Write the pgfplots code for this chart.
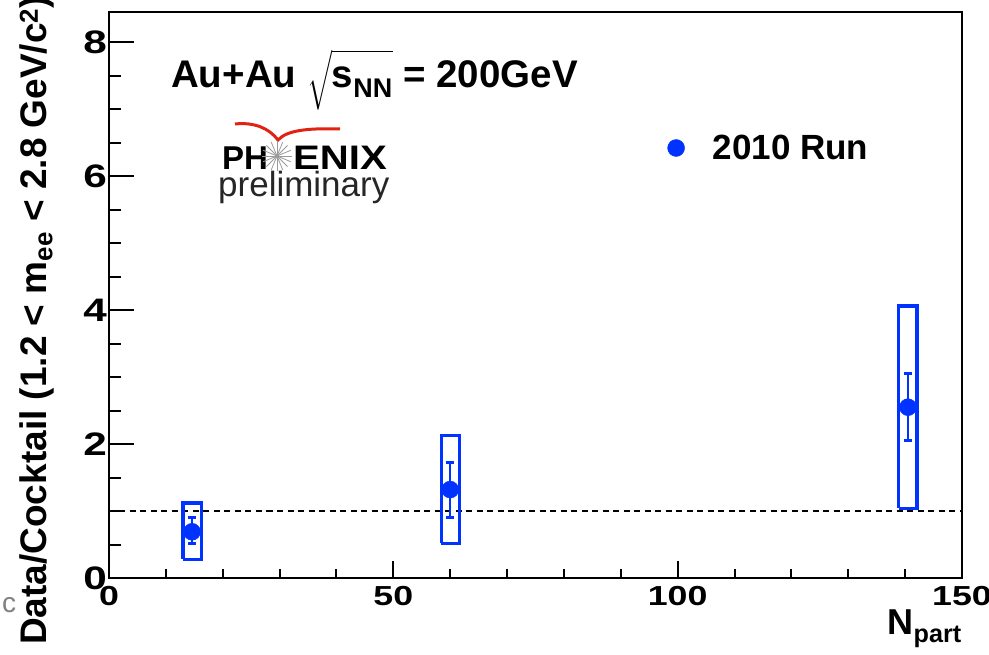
\documentclass[border=0pt]{standalone}
\usepackage{fontspec}
\setmainfont{Liberation Sans}
\usepackage{amsmath}
\usepackage{graphicx}
\usepackage{pgfplots}
\pgfplotsset{compat=1.18}

\definecolor{rootblue}{RGB}{0,51,255}
\definecolor{phxred}{RGB}{225,35,20}

\begin{document}
\begin{tikzpicture}
\useasboundingbox (-109pt,-76pt) rectangle (880pt,578pt);
\begin{axis}[
    scale only axis,
    width=853pt, height=566pt,
    xmin=0, xmax=150,
    ymin=0, ymax=8.45,
    xtick={0,50,100,150},
    minor xtick={10,20,30,40,60,70,80,90,110,120,130,140},
    ytick={0,2,4,6,8},
    minor ytick={0.5,1,1.5,2.5,3,3.5,4.5,5,5.5,6.5,7,7.5},
    tick align=inside,
    tick pos=left,
    axis line style={line width=2.5pt},
    xtick style={line width=2pt, black, /pgfplots/major tick length=17pt, /pgfplots/minor tick length=9pt},
    ytick style={line width=2pt, black, /pgfplots/major tick length=25pt, /pgfplots/minor tick length=12pt},
    /pgf/number format/assume math mode=true,
    xticklabel={\scalebox{1.3}[1]{\pgfmathprintnumber{\tick}}},
    yticklabel={\scalebox{1.3}[1]{\pgfmathprintnumber{\tick}}},
    xticklabel style={font=\bfseries\fontsize{27.5}{28}\selectfont, inner sep=0pt, yshift=-8pt},
    yticklabel style={font=\bfseries\fontsize{32.5}{33}\selectfont, inner sep=0pt, xshift=-2pt},
    legend style={draw=none, fill=none, at={(axis cs:98.2,6.42)}, anchor=west,
        font=\bfseries\fontsize{35}{40}\selectfont, inner sep=0pt},
    legend cell align=left,
]
% reference line at ratio 1
\addplot[black, line width=2pt, dash pattern=on 6pt off 4.5pt, forget plot]
    coordinates {(0,1) (150,1)};

% systematic boxes
\addplot[rootblue, line width=3.2pt, line join=miter, forget plot]
    coordinates {(13.0,0.28) (16.2,0.28) (16.2,1.12) (13.0,1.12) (13.0,0.28)};
\addplot[rootblue, line width=3.2pt, line join=miter, forget plot]
    coordinates {(58.4,0.52) (61.6,0.52) (61.6,2.13) (58.4,2.13) (58.4,0.52)};
\addplot[rootblue, line width=3.2pt, line join=miter, forget plot]
    coordinates {(138.9,1.04) (142.1,1.04) (142.1,4.06) (138.9,4.06) (138.9,1.04)};

% data with statistical errors
\addplot[rootblue, only marks, mark=*, mark size=8.5pt,
    error bars/.cd, y dir=both, y explicit,
    error bar style={line width=2pt, rootblue},
    error mark options={rootblue, rotate=90, mark size=4pt, line width=3pt}]
    coordinates {
    (14.6,0.69) += (0,0.22) -= (0,0.18)
    (60.0,1.32) += (0,0.41) -= (0,0.41)
    (140.5,2.55) += (0,0.51) -= (0,0.49)
};
\addlegendentry{\hspace*{26pt}2010 Run}
\end{axis}

% labels
\node[rotate=90, anchor=base west, inner sep=0pt, font=\bfseries\fontsize{37}{40}\selectfont]
    at (-62pt,-67pt) {Data/Cocktail (1.2 < m$_{\textbf{ee}}$ < 2.8 GeV/c$^{\textbf{2}}$)};
\node[anchor=north east, inner sep=0pt, font=\bfseries\fontsize{36}{40}\selectfont]
    at (853pt,-32pt) {N$_{\textbf{part}}$};
\node[anchor=base west, inner sep=0pt, text=gray, font=\fontsize{28}{30}\selectfont]
    at (-107pt,-34pt) {c};

% title
\node[anchor=base west, inner sep=0pt, font=\bfseries\fontsize{38.5}{40}\selectfont]
    at (62pt,490pt) {Au+Au $\sqrt{\vphantom{\Big|}\textbf{s}_{\textbf{NN}}}$ = 200GeV};

% PHENIX preliminary logo
\draw[phxred, line width=3pt] (126pt,454pt) .. controls (145pt,456pt) and (160pt,450pt) .. (169pt,438pt)
    .. controls (178pt,448pt) and (200pt,450pt) .. (231pt,449pt);
\node[anchor=base west, inner sep=0pt, font=\bfseries\fontsize{33}{40}\selectfont]
    at (113pt,408pt) {PH};
\foreach \a in {0,22.5,...,157.5}
    \draw[gray!80, line width=0.8pt] (168pt,422pt) ++(\a:15pt) -- ++(\a+180:30pt);
\node[anchor=base west, inner sep=0pt, font=\bfseries\fontsize{34}{40}\selectfont]
    at (184pt,408pt) {\scalebox{1.18}[1]{ENIX}};
\node[anchor=base west, inner sep=0pt, text=black!85, font=\fontsize{35}{40}\selectfont]
    at (109pt,381pt) {preliminary};
\end{tikzpicture}
\end{document}
